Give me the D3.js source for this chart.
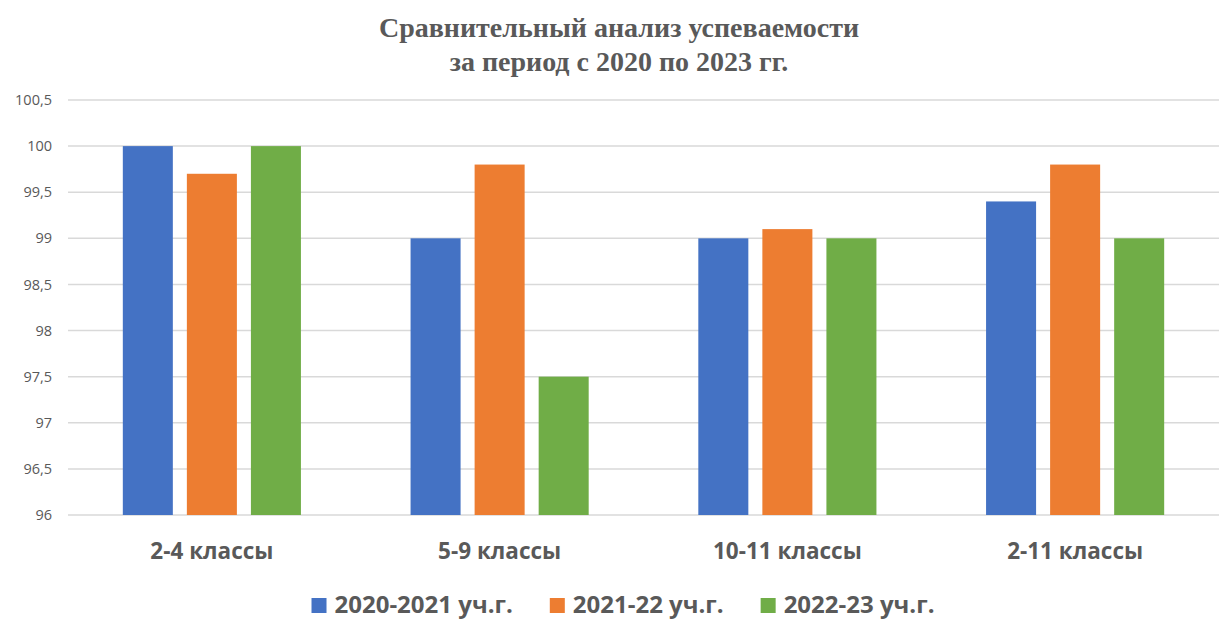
<!DOCTYPE html>
<html>
<head>
<meta charset="utf-8">
<script src="https://cdn.jsdelivr.net/npm/d3@7"></script>
<style>
  body { margin: 0; background: #fff; }
  svg { display: block; }
</style>
</head>
<body>
<div id="chart"></div>
<script>
const categories = ['2-4 классы', '5-9 классы', '10-11 классы', '2-11 классы'];
const seriesNames = ['2020-2021 уч.г.', '2021-22 уч.г.', '2022-23 уч.г.'];
const values2020 = [100, 99, 99, 99.4];
const values2021 = [99.7, 99.8, 99.1, 99.8];
const values2022 = [100, 97.5, 99, 99];
const yTicks = [96, 96.5, 97, 97.5, 98, 98.5, 99, 99.5, 100, 100.5];
const titleLines = ['Сравнительный анализ успеваемости', 'за период с 2020 по 2023 гг.'];

const colors = ['#4472c4', '#ed7d31', '#70ad47'];
const seriesValues = [values2020, values2021, values2022];

const WIDTH = 1232, HEIGHT = 634;
const margin = { top: 100, bottom: 119, left: 68, right: 13 };
const width = WIDTH - margin.left - margin.right,
    height = HEIGHT - margin.top - margin.bottom;

const svg = d3.select('#chart').append('svg')
    .attr('width', WIDTH)
    .attr('height', HEIGHT);

const g = svg.append('g')
    .attr('transform', `translate(${margin.left},${margin.top})`);

const x0 = d3.scaleBand()
    .domain(categories)
    .range([0, width])
    .paddingInner(0.381)
    .paddingOuter(0.1905);

const x1 = d3.scaleBand()
    .domain(d3.range(seriesNames.length))
    .range([0, x0.bandwidth()])
    .paddingInner(0.219)
    .paddingOuter(0);

const y = d3.scaleLinear()
    .domain([96, 100.5])
    .range([height, 0]);

// gridlines
g.selectAll('line.grid')
    .data(yTicks)
    .join('line')
    .attr('class', 'grid')
    .attr('x1', 0)
    .attr('x2', width)
    .attr('y1', d => y(d))
    .attr('y2', d => y(d))
    .attr('stroke', '#d9d9d9')
    .attr('stroke-width', 1.5);

// y axis labels
const fmt = d => String(d).replace('.', ',');
g.selectAll('text.ytick')
    .data(yTicks)
    .join('text')
    .attr('class', 'ytick')
    .attr('x', -16)
    .attr('y', d => y(d))
    .attr('dy', '0.35em')
    .attr('text-anchor', 'end')
    .attr('font-family', 'Open Sans, sans-serif')
    .attr('font-size', 14.5)
    .attr('fill', '#595959')
    .text(fmt);

// bars
const groups = g.selectAll('g.cat')
    .data(categories)
    .join('g')
    .attr('class', 'cat')
    .attr('transform', d => `translate(${x0(d)},0)`);

groups.selectAll('rect')
    .data((d, i) => seriesValues.map((s, j) => ({ s: j, v: s[i] })))
    .join('rect')
    .attr('x', d => x1(d.s))
    .attr('width', x1.bandwidth())
    .attr('y', d => y(d.v))
    .attr('height', d => y(96) - y(d.v))
    .attr('fill', d => colors[d.s]);

// category labels
g.selectAll('text.xtick')
    .data(categories)
    .join('text')
    .attr('class', 'xtick')
    .attr('x', d => x0(d) + x0.bandwidth() / 2)
    .attr('y', height + 44)
    .attr('text-anchor', 'middle')
    .attr('font-family', 'Open Sans, sans-serif')
    .attr('font-weight', 'bold')
    .attr('font-size', 22.5)
    .attr('fill', '#595959')
    .text(d => d);

// title
svg.selectAll('text.title')
    .data(titleLines)
    .join('text')
    .attr('class', 'title')
    .attr('x', 619)
    .attr('y', (d, i) => 37 + i * 34)
    .attr('text-anchor', 'middle')
    .attr('font-family', 'Liberation Serif, serif')
    .attr('font-weight', 'bold')
    .attr('font-size', 28)
    .attr('fill', '#595959')
    .text(d => d);

// legend
const legend = svg.append('g');
const items = legend.selectAll('g.item')
    .data(seriesNames)
    .join('g')
    .attr('class', 'item');

items.append('rect')
    .attr('width', 15)
    .attr('height', 15)
    .attr('y', -15)
    .attr('fill', (d, i) => colors[i]);

items.append('text')
    .attr('x', 23)
    .attr('y', 0)
    .attr('font-family', 'Open Sans, sans-serif')
    .attr('font-weight', 'bold')
    .attr('font-size', 24)
    .attr('fill', '#595959')
    .text(d => d);

let offset = 0;
const gap = 37;
items.each(function () {
    const w = 23 + d3.select(this).select('text').node().getComputedTextLength();
    d3.select(this).attr('transform', `translate(${offset},613)`);
    offset += w + gap;
});
const total = offset - gap;
legend.attr('transform', `translate(${(WIDTH - total) / 2 + 7},0)`);
</script>
</body>
</html>
